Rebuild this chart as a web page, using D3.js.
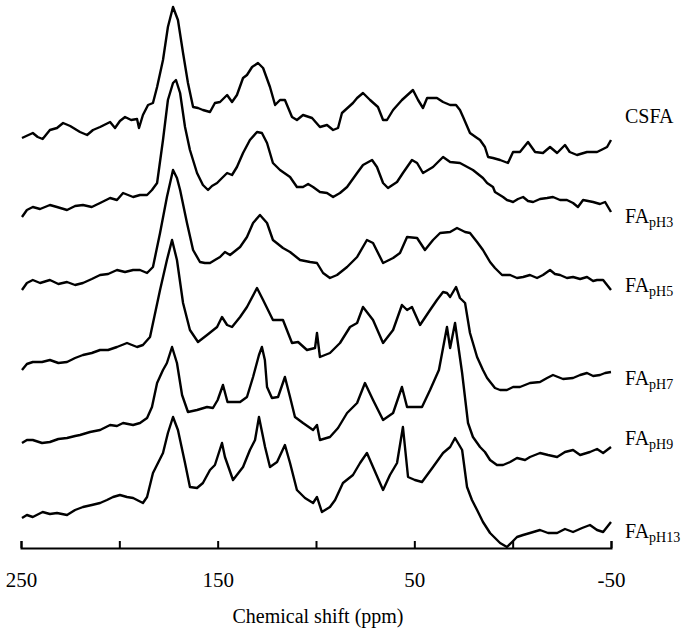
<!DOCTYPE html>
<meta charset="utf-8">
<script src="https://d3js.org/d3.v7.min.js"></script>
<style>
  body { margin: 0; background: #fff; }
  svg { display: block; }
  .spec { fill: none; stroke: #000; stroke-width: 2.4; stroke-linejoin: round; }
  .axis path, .axis line { stroke: #000; stroke-width: 2; }
  .axis text { font-family: "Liberation Serif", "Times New Roman", serif; font-size: 21px; fill: #000; }
  .lbl { font-family: "Liberation Serif", "Times New Roman", serif; font-size: 20px; fill: #000; }
</style>
<body></body>
<script>
// 13C NMR spectra, [ppm, intensity]
var csfa = [[249.5,2],[244,7],[241.5,3],[239,1],[235.3,10],[231.7,12],[228.6,17],[225,14],[220,8],[216.4,5],[213.4,10],[209.8,13],[204.7,18],[202.2,12],[199.7,19],[197.1,23],[194,20],[191,21],[190,12],[188,25],[185.4,35],[182.9,37],[180.8,53],[177.8,80],[175.3,113],[172.7,133],[170.2,120],[167.6,87],[165.1,57],[162.5,33],[160,32],[157.5,30],[153.9,28],[151.4,37],[148.8,38],[145.2,45],[142.7,38],[140.2,45],[137.1,62],[135.1,65],[132.5,73],[129.5,77],[126.9,72],[123.4,53],[120.8,35],[118.3,40],[115.8,40],[112.2,23],[109.7,20],[106.6,25],[102,22],[98,13],[94.4,15],[91.3,10],[88.8,12],[86.8,27],[81.2,37],[79.1,42],[76.1,47],[72.5,40],[68.5,33],[65.9,20],[63.9,20],[60.8,30],[56.3,40],[50.7,50],[48.1,40],[45.6,32],[43.5,42],[38.5,42],[35.4,38],[31.8,35],[28.8,35],[26.8,30],[25.2,23],[21.7,7],[18.1,2],[16.6,0],[14.1,-7],[12.5,-17],[10,-18],[6.4,-20],[2.4,-23],[-0.2,-12],[-3.7,-12],[-7.8,-2],[-11.4,-12],[-15.4,-13],[-19,-7],[-22.6,-13],[-26.6,-5],[-29,-12],[-32.7,-15],[-37.8,-12],[-42.9,-12],[-46,-9],[-48,-7],[-50,0]];

var ph3 = [[249.5,1],[247,8],[244,11],[240.3,9],[235.3,13],[231.7,11],[226.6,8],[222.5,12],[218.5,13],[214,11],[209.8,15],[204.7,20],[201.2,18],[198.1,25],[193,21],[189.5,23],[185.9,23],[183.4,28],[180.8,35],[177.8,78],[175.3,118],[172.7,135],[171.2,138],[169.1,125],[166.6,91],[164.1,68],[160.5,45],[157.5,33],[154.9,28],[152.9,32],[150.3,35],[148.8,38],[145.2,45],[142.7,43],[140.2,51],[137.1,65],[133.6,78],[130,86],[127.5,85],[124.9,75],[121.9,55],[118.3,48],[113.2,41],[109.7,31],[106.6,31],[104,34],[101.5,31],[98,26],[94.4,25],[91.3,21],[87.8,25],[84.2,31],[79.1,45],[76.1,53],[71.5,58],[69,51],[65.9,35],[63.4,30],[58.8,36],[55.8,45],[51.2,58],[48.6,55],[45.6,45],[40.5,51],[35.4,61],[31.8,56],[26.8,55],[20.2,48],[15.1,40],[13,35],[10,31],[9,26],[4.9,21],[2.9,18],[-0.2,16],[-2.7,19],[-5.3,21],[-7.8,17],[-10.4,16],[-13.9,19],[-17.5,20],[-20.5,21],[-24.1,18],[-27.6,18],[-30.7,15],[-33.2,11],[-35.8,18],[-40.9,16],[-44.4,14],[-47,16],[-50,6]];

var ph5 = [[249.5,0],[247,7],[244,10],[240.3,7],[235.3,10],[231,6],[226.6,8],[222.5,5],[218.5,7],[214,11],[209.8,15],[205.7,16],[201.2,20],[197.1,18],[193,20],[189.5,20],[185.9,17],[182.9,23],[179.3,57],[175.8,93],[172.7,120],[170.7,112],[169.1,100],[165.6,67],[162.5,40],[159,28],[156.5,27],[153.9,27],[151.4,30],[148.8,33],[146.3,38],[143.7,35],[138.6,43],[135.1,53],[132,67],[128.5,75],[124.9,67],[121.9,50],[116.8,42],[113.2,38],[108.1,30],[103,28],[99.5,27],[96.4,17],[92.9,12],[89.3,15],[84.2,23],[79.1,33],[74.1,50],[71,47],[65.9,27],[60.8,32],[57.3,37],[53.7,53],[48.6,52],[44.6,40],[40.5,50],[36.9,57],[31.8,58],[28.3,62],[24.2,58],[21.7,57],[18.1,48],[15.1,40],[11.5,28],[9,22],[5.4,15],[1.3,15],[-2.2,12],[-5.3,13],[-8.8,15],[-12.4,12],[-15.4,15],[-19,20],[-21.5,16],[-24.1,15],[-27.6,12],[-30.7,13],[-34.3,11],[-37.8,13],[-40.9,9],[-42.9,10],[-46,10],[-50,0]];

var ph7 = [[249.5,0],[247,6],[244,8],[239.3,8],[235.3,10],[231,7],[226.6,8],[222.5,12],[218.5,15],[214,17],[209.8,20],[205.7,20],[201.2,23],[196.1,27],[191,23],[188,25],[184.4,33],[179.3,80],[175.8,110],[173.2,130],[170.7,110],[167.6,67],[164.1,40],[160,28],[155.4,35],[150.3,43],[147.8,53],[145.2,45],[142.7,43],[138.6,53],[135.1,63],[130,82],[126.9,70],[121.9,50],[116.8,50],[112.2,27],[109.1,28],[104.6,20],[100.5,22],[99.5,37],[98,13],[92.9,17],[87.8,27],[82.7,43],[79.1,47],[76.1,63],[71,50],[65.9,27],[60.8,40],[56.3,65],[53.7,60],[51.2,63],[47.1,45],[42,60],[38.5,70],[35.4,78],[33.4,77],[31.8,73],[28.8,83],[26.8,72],[24.2,67],[21.7,37],[18.1,13],[15.1,0],[13,-8],[9,-18],[6.4,-20],[2.9,-20],[-0.2,-17],[-3.7,-17],[-8.8,-13],[-13.9,-12],[-17.5,-8],[-20.5,-5],[-25.6,-9],[-30.7,-8],[-34.3,-5],[-37.8,-3],[-40.9,-6],[-44.4,-5],[-47,-3],[-50,-2]];

var ph9 = [[249.5,0],[247,3],[244,3],[239.3,0],[235.3,1],[231,4],[226.6,5],[222.5,7],[220,8],[214.9,11],[209.8,13],[204.7,18],[201.2,17],[198.1,20],[193,18],[189.5,20],[185.9,25],[183.4,36],[180.8,60],[177.8,73],[175.8,80],[173.2,96],[170.7,80],[168.1,48],[165.1,31],[160.5,33],[155.4,36],[152.4,35],[150,43],[147.3,58],[145,41],[141.2,41],[138.6,41],[135.1,46],[132,66],[129,88],[127.5,96],[126,83],[124.9,56],[122.4,45],[119.3,46],[115.8,66],[113.2,46],[110.7,26],[106.6,20],[101.5,13],[99.5,18],[98,3],[92.9,6],[88.8,15],[84.2,30],[79.1,40],[75.1,60],[71,43],[65.9,23],[60.8,30],[56.3,56],[53.7,36],[49.7,36],[46.1,36],[42,53],[37.5,73],[33.4,116],[31.8,95],[29.3,120],[25.7,70],[22.7,20],[20.2,6],[16.6,-4],[14.1,-9],[11.5,-17],[8,-22],[4.9,-22],[1.3,-19],[-2.2,-15],[-6.3,-17],[-8.8,-14],[-13.9,-10],[-18,-12],[-22.6,-14],[-26.6,-9],[-30.7,-7],[-34.3,-12],[-39.3,-9],[-42.9,-6],[-46,-10],[-50,-4]];

var ph13 = [[249.5,0],[247,3],[244,1],[239,6],[235.3,4],[231.7,5],[226.6,3],[222.5,8],[218.5,11],[214,13],[209.8,15],[206.3,18],[203.2,21],[199.7,23],[196.1,21],[193,20],[188,15],[185.9,21],[182.9,45],[177.8,65],[175.3,85],[172.7,101],[170.2,88],[166.6,55],[164.1,31],[160.5,30],[157.5,35],[153.9,48],[151.4,53],[147.8,75],[146.3,61],[142.2,38],[137.1,51],[133.6,68],[131,78],[129,101],[125.9,71],[123.4,51],[119.8,56],[115.8,73],[113.2,55],[109.7,28],[105.6,20],[101.5,15],[99.5,21],[97,6],[92.9,11],[90.3,18],[86.3,35],[81.2,43],[77.6,55],[74.1,65],[71,51],[65.9,28],[62.4,43],[58.8,55],[55.8,91],[53.2,41],[49.7,38],[46.1,36],[40.5,51],[35.4,65],[31.8,71],[29.3,80],[25.7,68],[23.2,31],[20.7,18],[18.1,8],[15.1,-4],[11.5,-15],[6.4,-25],[2.9,-29],[0.3,-24],[-2.2,-19],[-5.3,-17],[-8.8,-15],[-13.9,-12],[-18,-15],[-22.6,-15],[-26.6,-11],[-30.7,-14],[-35.3,-10],[-39.3,-7],[-42.9,-12],[-46,-14],[-50,-4]];

var spectra = [csfa, ph3, ph5, ph7, ph9, ph13];
var sampleMain = ["CSFA", "FA", "FA", "FA", "FA", "FA"];
var sampleSub = ["", "pH3", "pH5", "pH7", "pH9", "pH13"];
var offsets = [408, 330, 258, 178, 105, 30];      // stacking offset of each trace
var tickValues = [250, 200, 150, 100, 50, 0, -50];
var tickLabels = ["250", "", "150", "", "50", "", "-50"];

// label nudges relative to each trace's offset (layout)
var labelShift = [17, -5, -2, -15, -2, -20];

var W = 685, H = 634;
var svg = d3.select("body").append("svg")
    .attr("width", W)
    .attr("height", H);

var xScale = d3.scaleLinear()
  .domain([250, -50])
  .range([21, 611]);

var yScale = d3.scaleLinear()
  .domain([0, 548])
  .range([548, 0]);

var xAxis = d3.axisBottom(xScale)
  .tickValues(tickValues)
  .tickFormat(function(d, i) { return tickLabels[i]; })
  .tickSizeInner(-7)
  .tickSizeOuter(-7)
  .tickPadding(24);

svg.append("g")
  .attr("class", "axis")
  .attr("transform", "translate(0," + yScale(0) + ")")
  .call(xAxis);

svg.append("text")
  .attr("class", "lbl")
  .attr("x", 318)
  .attr("y", 623)
  .attr("text-anchor", "middle")
  .text("Chemical shift (ppm)");

spectra.forEach(function(s, i) {
  var line = d3.line()
    .x(function(d) { return xScale(d[0]); })
    .y(function(d) { return yScale(offsets[i] + d[1]); });

  svg.append("path")
    .datum(s)
    .attr("class", "spec")
    .attr("d", line);

  var t = svg.append("text")
    .attr("class", "lbl")
    .attr("x", xScale(-50) + 14)
    .attr("y", yScale(offsets[i] + labelShift[i]));
  t.append("tspan").text(sampleMain[i]);
  if (sampleSub[i]) {
    t.append("tspan")
      .attr("dy", 4)
      .style("font-size", "14px")
      .text(sampleSub[i]);
  }
});
</script>
